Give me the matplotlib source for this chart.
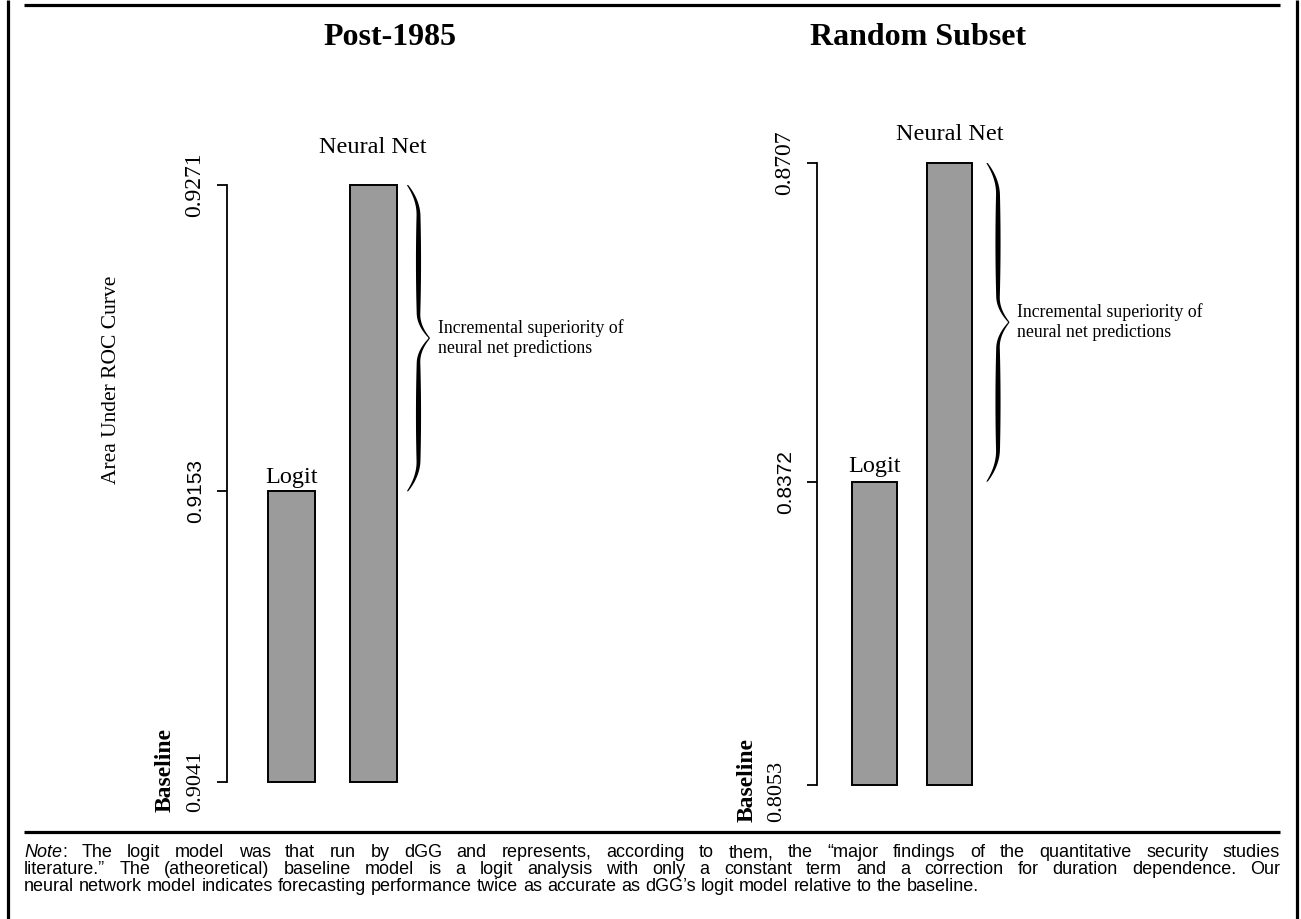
import matplotlib
matplotlib.use("Agg")
import matplotlib.pyplot as plt
import numpy as np
from matplotlib.patches import Polygon

# ---- data ----
panel_titles = ["Post-1985", "Random Subset"]
model_names = ["Logit", "Neural Net"]
baseline_auc = [0.9041, 0.8053]
logit_auc = [0.9153, 0.8372]
neural_auc = [0.9271, 0.8707]
y_label = "Area Under ROC Curve"
baseline_word = "Baseline"
brace_label = "Incremental superiority of\nneural net predictions"
note_lines = [
    "Note: The logit model was that run by dGG and represents, according to them, the \u201cmajor findings of the quantitative security studies",
    "literature.\u201d The (atheoretical) baseline model is a logit analysis with only a constant term and a correction for duration dependence. Our",
    "neural network model indicates forecasting performance twice as accurate as dGG\u2019s logit model relative to the baseline.",
]

W, H = 1301, 919
SERIF = ["Liberation Serif", "DejaVu Serif"]
SANS = ["Liberation Sans", "DejaVu Sans"]
BAR_GREY = "#9b9b9b"
NOTE_SIZE = 13

# panel layout, in pixels of the 1301x919 canvas
layout = [
    dict(axis=227, top=185, bottom=782, c0=291.5, c1=373, bar=47, right=470,
         title_x=390, gaps=(8, 32), num_dx=-31, word_dx=-62, base_dy=-30, brace_gap=11),
    dict(axis=817, top=163, bottom=785, c0=874.5, c1=949.5, bar=45, right=1060,
         title_x=918, gaps=(10, 23), num_dx=-40, word_dx=-70, base_dy=-37, brace_gap=15),
]

fig = plt.figure(figsize=(W / 100, H / 100), dpi=100)
bg = fig.add_axes([0, 0, 1, 1])
bg.set_xlim(0, W)
bg.set_ylim(H, 0)
bg.axis("off")

# frame and rules
kw = dict(color="black", lw=2.3, solid_capstyle="butt")
bg.plot([8, 8], [0, H], **kw)
bg.plot([1297, 1297], [0, H], **kw)
bg.plot([24, 1280], [5, 5], **kw)
bg.plot([24, 1280], [832, 832], **kw)


def brace(x_left, y_a, y_b, depth=22):
    # curly brace built in display pixels, then moved into bg coordinates
    u = np.linspace(0, 1, 300)
    v = np.where(u < 0.5, u / 0.5, (1 - u) / 0.5)
    h = np.where(v < 0.2, 0.5 * (1 - (1 - v / 0.2) ** 2),
                 np.where(v < 0.84, 0.5, 0.5 + 0.5 * ((v - 0.84) / 0.16) ** 2))
    y = y_a + (y_b - y_a) * u
    x = x_left + depth * h
    t = 1.3 + 3.8 * np.sin(np.pi * v) ** 0.7
    pts = np.vstack([np.column_stack([x - t / 2, y]),
                     np.column_stack([x + t / 2, y])[::-1]])
    pts = bg.transData.inverted().transform(pts)
    bg.add_patch(Polygon(pts, closed=True, color="black", lw=0))
    return bg.transData.inverted().transform((x_left + depth, (y_a + y_b) / 2))


for k, lay in enumerate(layout):
    base, lo, nn = baseline_auc[k], logit_auc[k], neural_auc[k]
    sp = lay["c1"] - lay["c0"]
    ax = fig.add_axes([lay["axis"] / W, (H - lay["bottom"]) / H,
                       (lay["right"] - lay["axis"]) / W, (lay["bottom"] - lay["top"]) / H])
    ax.set_facecolor("none")
    ax.set_xlim((lay["axis"] - lay["c0"]) / sp, (lay["right"] - lay["c0"]) / sp)
    ax.set_ylim(base, nn)
    bw = lay["bar"] / sp
    vals = [lo, nn]
    ax.bar([0, 1], [v - base for v in vals], bottom=base, width=bw, color=BAR_GREY,
           edgecolor="black", lw=1.4, clip_on=False, zorder=3)

    for s in ["top", "right", "bottom"]:
        ax.spines[s].set_visible(False)
    ax.spines["left"].set_linewidth(1.3)
    ax.set_xticks([])
    ax.set_yticks([base, lo, nn])
    ax.set_yticklabels(["", f"{lo:.4f}", f"{nn:.4f}"], rotation=90, va="center")
    ax.tick_params(axis="y", direction="out", length=7.5, width=1.3, pad=8.5)
    labs = ax.get_yticklabels()
    labs[1].set_fontfamily(SANS)
    labs[1].set_fontsize(15)
    labs[2].set_fontfamily(SERIF)
    labs[2].set_fontsize(17)

    # baseline number and word under the axis
    ax.annotate(f"{base:.4f}", xy=(0, base), xycoords=("axes fraction", "data"),
                xytext=(lay["num_dx"], lay["base_dy"]), textcoords="offset pixels",
                rotation=90, rotation_mode="anchor", ha="left", va="center",
                family=SERIF, size=16)
    ax.annotate(baseline_word, xy=(0, base), xycoords=("axes fraction", "data"),
                xytext=(lay["word_dx"], lay["base_dy"]), textcoords="offset pixels",
                rotation=90, rotation_mode="anchor", ha="left", va="center",
                family=SERIF, size=17, weight="bold")

    # bar labels
    for i, (name, v) in enumerate(zip(model_names, vals)):
        ax.annotate(name, xy=(i, v), xytext=(0, lay["gaps"][i]), textcoords="offset pixels",
                    ha="center", va="baseline", family=SERIF, size=17.5,
                    annotation_clip=False)

    # brace from the top of the neural net bar down to the logit level
    x_edge = ax.transData.transform((1 + bw / 2, nn))[0] + lay["brace_gap"]
    y_a = ax.transData.transform((0, nn))[1]
    y_b = ax.transData.transform((0, lo))[1]
    tip = brace(x_edge, y_a, y_b)
    bg.text(tip[0] + 8, tip[1], brace_label, ha="left", va="center",
            family=SERIF, size=12.8, linespacing=1.22)

    bg.text(lay["title_x"], 45, panel_titles[k], ha="center", va="baseline",
            family=SERIF, size=23, weight="bold")

bg.text(112, 380, y_label, rotation=90, ha="center", va="center", family=SERIF, size=15.5)

# justified note text
renderer = fig.canvas.get_renderer()
x_l, x_r = 24, 1280
baselines = [857, 874, 891]
for li, line in enumerate(note_lines):
    words = line.split(" ")
    pieces = []
    for wi, w in enumerate(words):
        if li == 0 and wi == 0:
            t1 = bg.text(0, baselines[li], "Note", family=SANS, size=NOTE_SIZE,
                         style="italic", va="baseline", ha="left")
            t2 = bg.text(0, baselines[li], ":", family=SANS, size=NOTE_SIZE,
                         va="baseline", ha="left")
            w1 = t1.get_window_extent(renderer).width
            w2 = t2.get_window_extent(renderer).width
            pieces.append(([(t1, 0), (t2, w1)], w1 + w2))
        else:
            t = bg.text(0, baselines[li], w, family=SANS, size=NOTE_SIZE,
                        va="baseline", ha="left")
            pieces.append(([(t, 0)], t.get_window_extent(renderer).width))
    total = sum(p[1] for p in pieces)
    if li < len(note_lines) - 1:
        gap = (x_r - x_l - total) / (len(pieces) - 1)
    else:
        sp_t = bg.text(0, 0, "a a", family=SANS, size=NOTE_SIZE)
        sp_a = bg.text(0, 0, "aa", family=SANS, size=NOTE_SIZE)
        gap = sp_t.get_window_extent(renderer).width - sp_a.get_window_extent(renderer).width
        sp_t.remove()
        sp_a.remove()
    x = x_l
    for parts, wdt in pieces:
        for t, off in parts:
            t.set_x(x + off)
        x += wdt + gap

fig.savefig("out.png", dpi=100, facecolor="white")
